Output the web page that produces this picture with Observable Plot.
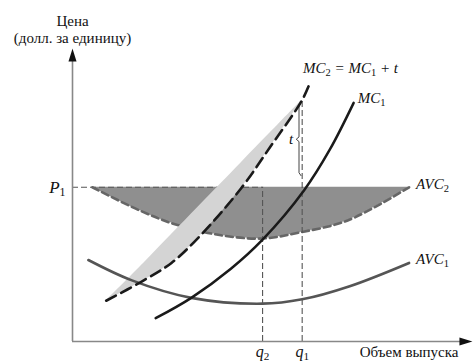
<!DOCTYPE html>
<html><head><meta charset="utf-8">
<script src="https://cdn.jsdelivr.net/npm/d3@7"></script>
<script src="https://cdn.jsdelivr.net/npm/@observablehq/plot@0.6"></script>
<style>body{margin:0;background:#fff} svg text{font-family:"Liberation Serif","Times New Roman",serif !important;}</style>
</head><body><div id="chart"></div>
<script>
// Economic levels
const P1 = 53, q2 = 48, q1 = 58;
// Curves [quantity, price]
const mc1 = [[21,8],[30,15],[40,25],[48,35],[58.5,52],[65,66],[71,82]];
const mc2 = [[8.5,14],[18,21],[25,27],[32,36],[42.5,52.5],[50,67],[58,83],[60,89]];
const avc1 = [[4,28],[15,21],[30,15],[48,13],[58,14.5],[70,19],[85,27]];
const avc2 = [[5,53],[17,45],[26.5,40],[37.5,36.5],[48,35.4],[57.5,37.5],[69.5,41.6],[85,53]];
const wedgeLow = [9.5,15];     // lower vertex of light wedge
const bracePrice = [82,57];    // extent of tax brace
// Texts
const yTitle = ["Цена","(долл. за единицу)"];
const xTitle = "Объем выпуска";
const curveLabels = ["MC_1","MC_2 = MC_1 + t","AVC_1","AVC_2"];

const mc2AtQ1 = mc2.find(d => d[0] === q1)[1];
const slope = (mc2AtQ1 - wedgeLow[1]) / (q1 - wedgeLow[0]);
const wedge = mc2.filter(d => d[0] <= q1).map(([q,p]) => ({q, p1: p, p2: Math.max(p, wedgeLow[1] + slope*(q - wedgeLow[0]))}));
const [bt, bb] = bracePrice, bm = (bt+bb)/2;
const brace = [[q1-0.3,bt],[q1-0.8,bt-1],[q1-0.8,bm+0.8],[q1-1.5,bm],[q1-0.8,bm-0.8],[q1-0.8,bb+1],[q1-0.3,bb]];

const upArrow = {draw(ctx){ctx.moveTo(0,0);ctx.lineTo(4,13);ctx.lineTo(-4,13);ctx.closePath();}};
const rightArrow = {draw(ctx){ctx.moveTo(0,0);ctx.lineTo(-13,4);ctx.lineTo(-13,-4);ctx.closePath();}};

const serif = "Liberation Serif";
const X = d => d[0], Y = d => d[1];
const last = a => [a[a.length-1]];
const T = {fontFamily: serif, fill: "#111"};

const plot = Plot.plot({
  width: 474, height: 362,
  marginLeft: 72, marginRight: 6, marginTop: 50, marginBottom: 21,
  x: {domain: [0,100], axis: null},
  y: {domain: [0,100], axis: null},
  style: {fontFamily: serif, background: "white", color: "#111"},
  marks: [
    Plot.areaY(avc2, {x: X, y1: Y, y2: () => P1, fill: "#8f8f8f", curve: "catmull-rom"}),
    Plot.ruleY([P1], {y: d => d, x1: () => 0, x2: () => q2, stroke: "#555", strokeWidth: 1.2, strokeDasharray: "6,3"}),
    Plot.line(avc2, {x: X, y: Y, stroke: "#666", strokeWidth: 2.6, strokeDasharray: "7,4", curve: "catmull-rom"}),
    Plot.areaY(wedge, {x: "q", y1: "p1", y2: "p2", fill: "#d4d4d4", curve: "catmull-rom"}),
    Plot.line(avc1, {x: X, y: Y, stroke: "#555", strokeWidth: 2.6, curve: "catmull-rom"}),
    Plot.ruleX([q2], {x: d => d, y1: () => 0, y2: () => P1, stroke: "#555", strokeWidth: 1.1, strokeDasharray: "6,3"}),
    Plot.ruleX([q1], {x: d => d, y1: () => 0, y2: () => mc2AtQ1, stroke: "#555", strokeWidth: 1.1, strokeDasharray: "6,3"}),
    Plot.line(brace, {x: X, y: Y, stroke: "#444", strokeWidth: 1}),
    Plot.line(mc2, {x: X, y: Y, stroke: "#1a1a1a", strokeWidth: 2.6, strokeDasharray: "11,6", curve: "catmull-rom"}),
    Plot.line(mc1, {x: X, y: Y, stroke: "#1a1a1a", strokeWidth: 2.5, curve: "catmull-rom"}),
    // axes
    Plot.ruleX([0], {x: d => d, y1: () => 0, y2: () => 98, stroke: "#888", strokeWidth: 1.6}),
    Plot.ruleY([0], {y: d => d, x1: () => 0, x2: () => 99.5, stroke: "#888", strokeWidth: 1.6}),
    Plot.dot([[0,100.7]], {x: X, y: Y, symbol: upArrow, fill: "#111", stroke: "none", r: 5}),
    Plot.dot([[101,0]], {x: X, y: Y, symbol: rightArrow, fill: "#111", stroke: "none", r: 5}),
    // axis titles
    Plot.text([yTitle[0]], {...T, x: () => 0, y: () => 100, text: d => d, dy: -29, fontSize: 15, textAnchor: "middle"}),
    Plot.text([yTitle[1]], {...T, x: () => 0, y: () => 100, text: d => d, dy: -12, fontSize: 15, textAnchor: "middle"}),
    Plot.text([xTitle], {...T, x: () => 100, y: () => 0, text: d => d, dx: -10, dy: 11, fontSize: 15, textAnchor: "end"}),
    Plot.text(["P_1"], {...T, x: () => 0, y: () => P1, text: d => d, dx: -7, fontSize: 17, fontStyle: "italic", textAnchor: "end"}),
    Plot.text([["q_2", q2], ["q_1", q1]], {...T, x: d => d[1], y: () => 0, text: d => d[0], dy: 10, fontSize: 16, fontStyle: "italic"}),
    Plot.text(["t"], {...T, x: () => q1, y: () => bm, text: d => d, dx: -11, fontSize: 15, fontStyle: "italic"}),
    // curve labels
    Plot.text(last(mc1), {...T, x: X, y: Y, text: () => curveLabels[0], dx: 4, dy: -5, fontSize: 15, fontStyle: "italic", textAnchor: "start"}),
    Plot.text(last(mc2), {...T, x: X, y: Y, text: () => curveLabels[1], dx: -7, dy: -14, fontSize: 15, fontStyle: "italic", textAnchor: "start"}),
    Plot.text(last(avc1), {...T, x: X, y: Y, text: () => curveLabels[2], dx: 7, dy: -4, fontSize: 15, fontStyle: "italic", textAnchor: "start"}),
    Plot.text(last(avc2), {...T, x: X, y: Y, text: () => curveLabels[3], dx: 7, dy: -3, fontSize: 15, fontStyle: "italic", textAnchor: "start"})
  ]
});

// subscripts: "_d" -> subscript tspan
const NS = "http://www.w3.org/2000/svg";
plot.querySelectorAll("text").forEach(t => {
  const s = t.textContent;
  if (!s.includes("_")) return;
  t.textContent = "";
  s.split(/_(\d)/).forEach((part, i) => {
    if (!part) return;
    const ts = document.createElementNS(NS, "tspan");
    ts.textContent = part;
    if (i % 2 === 1) {
      ts.setAttribute("dy", "3");
      ts.setAttribute("font-size", "70%");
      ts.setAttribute("font-style", "normal");
    } else if (i > 0) {
      ts.setAttribute("dy", "-3");
    }
    t.appendChild(ts);
  });
});
document.getElementById("chart").appendChild(plot);
</script>
</body></html>
